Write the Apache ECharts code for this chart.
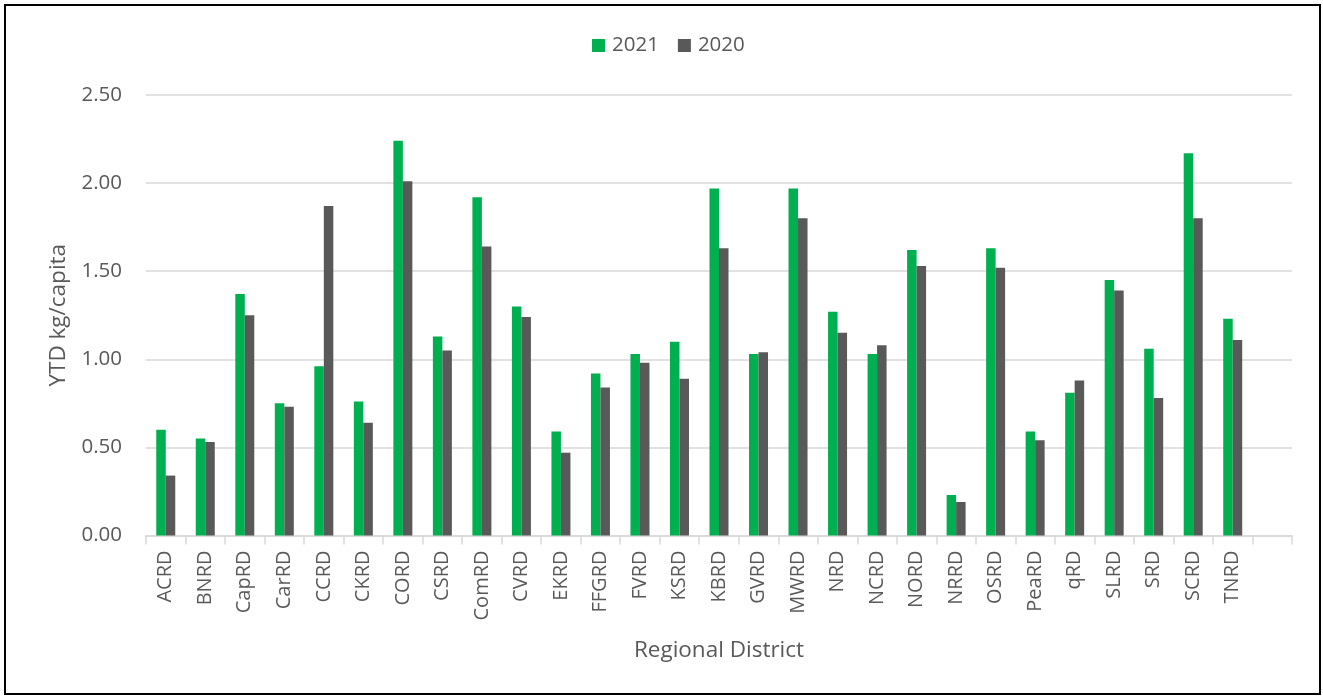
<!DOCTYPE html>
<html>
<head>
<meta charset="utf-8">
<script src="https://cdn.jsdelivr.net/npm/echarts@6/dist/echarts.min.js"></script>
<style>
html,body{margin:0;padding:0;background:#fff;}
#chart{width:1323px;height:696px;}
</style>
</head>
<body>
<div id="chart"></div>
<script>
const categories = ['ACRD','BNRD','CapRD','CarRD','CCRD','CKRD','CORD','CSRD','ComRD','CVRD','EKRD','FFGRD','FVRD','KSRD','KBRD','GVRD','MWRD','NRD','NCRD','NORD','NRRD','OSRD','PeaRD','qRD','SLRD','SRD','SCRD','TNRD',''];
const values2021 = [0.60,0.55,1.37,0.75,0.96,0.76,2.24,1.13,1.92,1.30,0.59,0.92,1.03,1.10,1.97,1.03,1.97,1.27,1.03,1.62,0.23,1.63,0.59,0.81,1.45,1.06,2.17,1.23,null];
const values2020 = [0.34,0.53,1.25,0.73,1.87,0.64,2.01,1.05,1.64,1.24,0.47,0.84,0.98,0.89,1.63,1.04,1.80,1.15,1.08,1.53,0.19,1.52,0.54,0.88,1.39,0.78,1.80,1.11,null];
const seriesNames = ['2021','2020'];
const yTicks = {min:0, max:2.5, interval:0.5};

const FONT = 'Open Sans';
const TXT = '#595959';
const chart = echarts.init(document.getElementById('chart'), null, {renderer:'canvas'});
chart.setOption({
  backgroundColor:'#ffffff',
  animation:false,
  textStyle:{fontFamily:FONT,color:TXT},
  graphic:[{type:'rect',shape:{x:5,y:5,width:1315,height:689},style:{fill:'none',stroke:'#000',lineWidth:2},silent:true}],
  legend:{
    data:seriesNames,
    top:30,
    left:587,
    itemWidth:13,itemHeight:13,itemGap:19,
    icon:'rect',
    textStyle:{fontFamily:FONT,fontSize:20.5,color:TXT,padding:[0,0,0,2]}
  },
  grid:{left:146,right:31,top:95,bottom:160.5,containLabel:false,outerBoundsMode:'none'},
  xAxis:{
    type:'category',
    data:categories,
    axisLine:{show:true,lineStyle:{color:'#d9d9d9',width:1.5}},
    axisTick:{show:true,length:9,lineStyle:{color:'#d9d9d9',width:1.5}},
    axisLabel:{rotate:90,margin:15,fontFamily:FONT,fontSize:20,color:TXT,interval:0},
    name:'Regional District',
    nameLocation:'middle',
    nameGap:104,
    nameTextStyle:{fontFamily:FONT,fontSize:22.5,color:TXT}
  },
  yAxis:{
    type:'value',
    min:yTicks.min,max:yTicks.max,interval:yTicks.interval,
    axisLine:{show:false},
    axisTick:{show:false},
    splitLine:{show:true,lineStyle:{color:'#d9d9d9',width:1.5}},
    axisLabel:{margin:24,fontFamily:FONT,fontSize:20.5,color:TXT,formatter:v=>v.toFixed(2)},
    name:'YTD kg/capita',
    nameLocation:'middle',
    nameRotate:90,
    nameGap:71,
    nameTextStyle:{fontFamily:FONT,fontSize:22.5,color:TXT}
  },
  series:[
    {name:seriesNames[0],type:'bar',data:values2021,barWidth:9.5,barGap:'0%',itemStyle:{color:'#00B050'}},
    {name:seriesNames[1],type:'bar',data:values2020,barWidth:9.5,barGap:'0%',itemStyle:{color:'#595959'}}
  ]
});
</script>
</body>
</html>
